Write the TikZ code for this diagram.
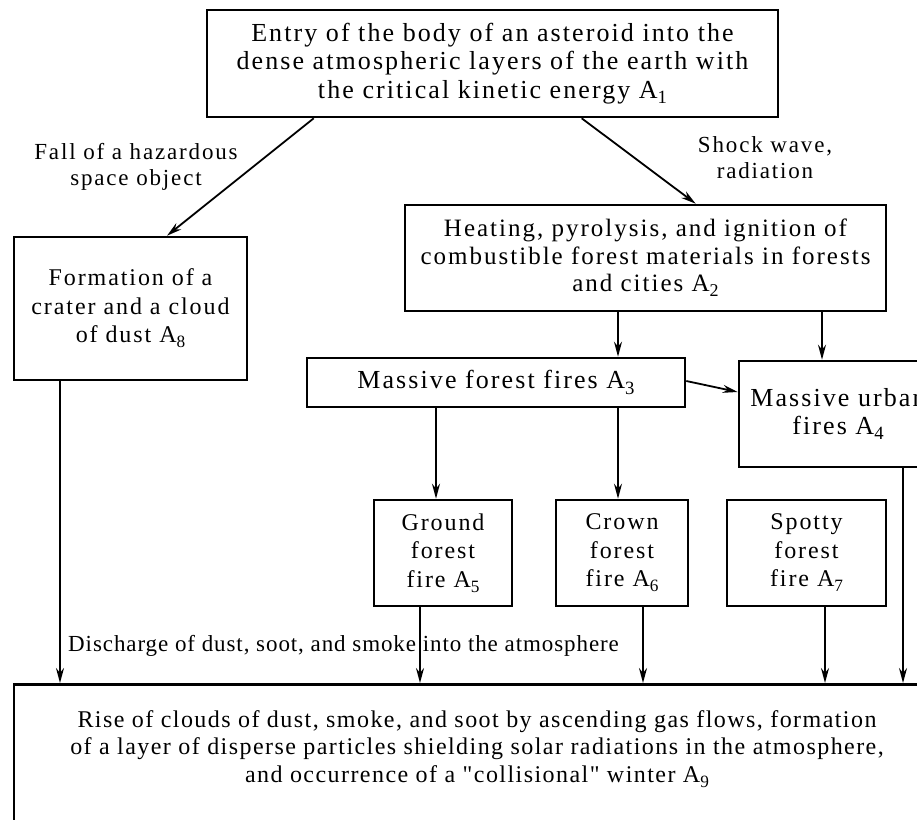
\documentclass[tikz,border=0pt]{standalone}
\usepackage{fontspec}
\setmainfont{Liberation Serif}[LetterSpace=8, Ligatures=TeXOff]
\usetikzlibrary{arrows.meta}
\newcommand{\Ai}[1]{A\raisebox{-0.45ex}{\scalebox{0.72}{#1}}}

\begin{document}
\begin{tikzpicture}[x=1pt, y=-1pt,
  box/.style={draw, line width=2.6pt, align=center, inner sep=0pt,
              font=\fontsize{24}{28.5}\selectfont},
  big/.style={font=\fontsize{26}{28.5}\selectfont},
  mid/.style={font=\fontsize{25}{27.5}\selectfont},
  txt/.style={align=center, inner sep=0pt,
              font=\addfontfeature{LetterSpace=6}\fontsize{24}{27.5}\selectfont},
  lbl/.style={align=center, inner sep=0pt, font=\fontsize{23}{26}\selectfont},
  ar/.style={line width=1.8pt, -{Stealth[length=15pt, width=8pt]}}
]
  \useasboundingbox (0,0) rectangle (917,819);
  \clip (0,0) rectangle (917,819);

  % boxes
  \node[box, big, minimum width=571pt, minimum height=107pt] (a1) at (492.5,63.5)
    {Entry of the body of an asteroid into the\\dense atmospheric layers of the earth with\\the critical kinetic energy \Ai{1}};
  \node[box, minimum width=233pt, minimum height=143pt] (a8) at (130.5,308.5)
    {Formation of a\\crater and a cloud\\of dust \Ai{8}};
  \node[box, mid, minimum width=481pt, minimum height=106pt] (a2) at (645.5,258)
    {Heating, pyrolysis, and ignition of\\combustible forest materials in forests\\and cities \Ai{2}};
  \node[box, big, minimum width=378pt, minimum height=49pt] (a3) at (496,382.5)
    {Massive forest fires \Ai{3}};
  \node[box, big, minimum width=198pt, minimum height=106pt] (a4) at (838,414)
    {Massive urban\\fires \Ai{4}};
  \node[box, minimum width=138pt, minimum height=106pt] (a5) at (443,553)
    {Ground\\forest\\fire \Ai{5}};
  \node[box, minimum width=132pt, minimum height=106pt] (a6) at (622,553)
    {Crown\\forest\\fire \Ai{6}};
  \node[box, minimum width=159pt, minimum height=106pt] (a7) at (806.5,553)
    {Spotty\\forest\\fire \Ai{7}};
  \node[box, minimum width=922pt, minimum height=160pt, anchor=north] (a9) at (475,683) {};
  \node[txt] (a9t) at (477,749)
    {Rise of clouds of dust, smoke, and soot by ascending gas flows, formation\\of a layer of disperse particles shielding solar radiations in the atmosphere,\\and occurrence of a "collisional" winter \Ai{9}};

  % labels
  \node[lbl] (lfall) at (136,167) {Fall of a hazardous\\space object};
  \node[lbl] (lshock) at (765,158) {Shock wave,\\radiation};
  \node[lbl, anchor=west, font=\addfontfeature{LetterSpace=4}\fontsize{23}{26}\selectfont]
    (ldis) at (68,646) {Discharge of dust, soot, and smoke into the atmosphere};

  % arrows
  \draw[ar] ([xshift=108pt]a1.south west) -- ([xshift=36.5pt]a8.north);
  \draw[ar] ([xshift=376pt]a1.south west) -- ([xshift=292pt]a2.north west);
  \draw[ar] ([xshift=122pt]a3.north |- a2.south) -- ([xshift=122pt]a3.north);
  \draw[ar] ([xshift=-16pt]a4.north |- a2.south) -- ([xshift=-16pt]a4.north);
  \draw[ar] ([yshift=1.5pt]a3.east) -- ([yshift=22pt]a4.west);
  \draw[ar] ([xshift=-7pt]a5.north |- a3.south) -- ([xshift=-7pt]a5.north);
  \draw[ar] ([xshift=-4pt]a6.north |- a3.south) -- ([xshift=-4pt]a6.north);
  \draw[ar] ([xshift=-70.5pt]a8.south) -- ([xshift=-70.5pt]a8.south |- a9.north);
  \draw[ar] ([xshift=-23pt]a5.south) -- ([xshift=-23pt]a5.south |- a9.north);
  \draw[ar] ([xshift=21pt]a6.south) -- ([xshift=21pt]a6.south |- a9.north);
  \draw[ar] ([xshift=18.5pt]a7.south) -- ([xshift=18.5pt]a7.south |- a9.north);
  \draw[ar] ([xshift=65pt]a4.south) -- ([xshift=65pt]a4.south |- a9.north);
\end{tikzpicture}
\end{document}
